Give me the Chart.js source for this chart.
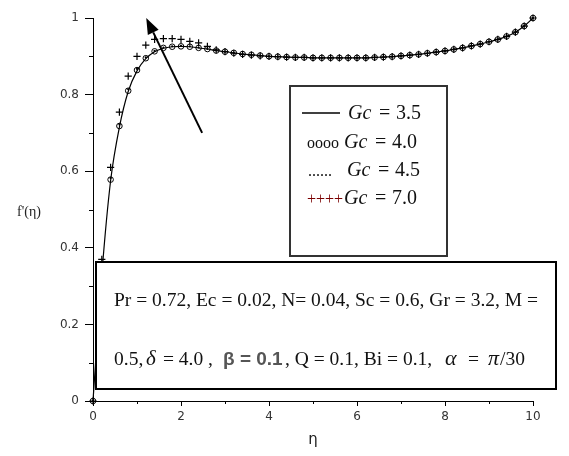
<!DOCTYPE html>
<html>
<head>
<meta charset="utf-8">
<script src="https://cdn.jsdelivr.net/npm/chart.js@4/dist/chart.umd.min.js"></script>
<style>
html,body{margin:0;padding:0;background:#fff}
canvas{display:block}
</style>
</head>
<body>
<canvas id="c" width="569" height="456"></canvas>
<script>
// similarity variable η
const eta = [0,0.2,0.4,0.6,0.8,1.0,1.2,1.4,1.6,1.8,2.0,2.2,2.4,2.6,2.8,3.0,3.2,3.4,3.6,3.8,
  4.0,4.2,4.4,4.6,4.8,5.0,5.2,5.4,5.6,5.8,6.0,6.2,6.4,6.6,6.8,7.0,7.2,7.4,7.6,7.8,
  8.0,8.2,8.4,8.6,8.8,9.0,9.2,9.4,9.6,9.8,10.0];

// velocity profiles f'(η) for each Gc
const gc35 = [0,0.33,0.575,0.715,0.808,0.862,0.894,0.912,0.921,0.925,0.926,0.925,0.922,0.919,0.915,0.912,0.909,0.906,0.904,0.902,
  0.900,0.899,0.898,0.897,0.897,0.896,0.896,0.896,0.896,0.896,0.896,0.896,0.897,0.898,0.899,0.901,0.903,0.905,0.908,0.911,
  0.914,0.918,0.922,0.927,0.932,0.938,0.944,0.952,0.963,0.979,1.0];
const gc40 = [0,0.332,0.578,0.718,0.810,0.864,0.895,0.913,0.922,0.925,0.926,0.925,0.922,0.919,0.915,0.912,0.909,0.906,0.904,0.902,
  0.900,0.899,0.898,0.897,0.897,0.896,0.896,0.896,0.896,0.896,0.896,0.896,0.897,0.898,0.899,0.901,0.903,0.905,0.908,0.911,
  0.914,0.918,0.922,0.927,0.932,0.938,0.944,0.952,0.963,0.979,1.0];
const gc45 = [0,0.335,0.582,0.722,0.814,0.867,0.897,0.914,0.923,0.926,0.927,0.926,0.923,0.920,0.916,0.912,0.909,0.906,0.904,0.902,
  0.900,0.899,0.898,0.897,0.897,0.896,0.896,0.896,0.896,0.896,0.896,0.896,0.897,0.898,0.899,0.901,0.903,0.905,0.908,0.911,
  0.914,0.918,0.922,0.927,0.932,0.938,0.944,0.952,0.963,0.979,1.0];
const gc70 = [0,0.37,0.61,0.754,0.848,0.900,0.929,0.944,0.946,0.946,0.944,0.939,0.935,0.926,0.917,0.912,0.908,0.905,0.903,0.901,
  0.900,0.899,0.898,0.897,0.897,0.896,0.896,0.896,0.896,0.896,0.896,0.896,0.897,0.898,0.899,0.901,0.903,0.905,0.908,0.911,
  0.914,0.918,0.922,0.927,0.932,0.938,0.944,0.952,0.963,0.979,1.0];

const gcValues = ['3.5', '4.0', '4.5', '7.0'];
const legendSymbols = ['', 'oooo', '......', '++++'];

// arrow showing the direction of increasing Gc (data coordinates)
const arrowFrom = {x: 2.48, y: 0.70};
const arrowTo = {x: 1.21, y: 1.0};

const xMinorTicks = [1, 3, 5, 7, 9];
const yMinorTicks = [0.1, 0.3, 0.5, 0.7, 0.9];

const pts = arr => arr.map((v, i) => ({x: eta[i], y: v}));

const SERIF = '"Liberation Serif", "Times New Roman", serif';
const SANS = '"DejaVu Sans", Verdana, sans-serif';
const BODY = '19.5px ' + SERIF;

const overlay = {
  id: 'overlay',
  afterDraw(chart) {
    const ctx = chart.ctx;
    const xs = chart.scales.x, ys = chart.scales.y;
    const area = chart.chartArea;
    ctx.save();

    // minor ticks
    ctx.strokeStyle = '#000';
    ctx.lineWidth = 1;
    ctx.beginPath();
    xMinorTicks.forEach(v => {
      const px = Math.round(xs.getPixelForValue(v)) + 0.5;
      ctx.moveTo(px, area.bottom); ctx.lineTo(px, area.bottom + 3);
    });
    yMinorTicks.forEach(v => {
      const py = Math.round(ys.getPixelForValue(v)) + 0.5;
      ctx.moveTo(area.left - 4, py); ctx.lineTo(area.left, py);
    });
    ctx.stroke();

    // y axis title, horizontal
    ctx.fillStyle = '#222';
    ctx.font = '14px ' + SERIF;
    ctx.textAlign = 'center';
    ctx.textBaseline = 'middle';
    ctx.fillText("f'(\u03B7)", 29, 212);

    // arrow
    const ax0 = xs.getPixelForValue(arrowFrom.x), ay0 = ys.getPixelForValue(arrowFrom.y);
    const ax1 = xs.getPixelForValue(arrowTo.x), ay1 = ys.getPixelForValue(arrowTo.y);
    const ang = Math.atan2(ay1 - ay0, ax1 - ax0);
    const headLen = 16, headW = 6;
    const bx = ax1 - headLen * Math.cos(ang), by = ay1 - headLen * Math.sin(ang);
    ctx.strokeStyle = '#000';
    ctx.lineWidth = 2;
    ctx.beginPath(); ctx.moveTo(ax0, ay0); ctx.lineTo(bx, by); ctx.stroke();
    ctx.fillStyle = '#000';
    ctx.beginPath();
    ctx.moveTo(ax1, ay1);
    ctx.lineTo(bx + headW * Math.sin(ang), by - headW * Math.cos(ang));
    ctx.lineTo(bx - headW * Math.sin(ang), by + headW * Math.cos(ang));
    ctx.closePath(); ctx.fill();

    // legend box
    const L = {x: 290, y: 86, w: 157, h: 170};
    ctx.fillStyle = '#fff';
    ctx.fillRect(L.x, L.y, L.w, L.h);
    ctx.strokeStyle = '#333';
    ctx.lineWidth = 2;
    ctx.strokeRect(L.x, L.y, L.w, L.h);
    const rowsY = [113, 142, 170, 198];
    const symX = [302, 307, 308, 307];
    const gcX = [348, 344, 347, 344];
    ctx.textBaseline = 'alphabetic';
    ctx.textAlign = 'left';
    gcValues.forEach((g, i) => {
      const base = rowsY[i] + 6;
      if (i === 0) {
        ctx.strokeStyle = '#000'; ctx.lineWidth = 1.5;
        ctx.beginPath(); ctx.moveTo(302, rowsY[i]); ctx.lineTo(340, rowsY[i]); ctx.stroke();
      } else {
        ctx.fillStyle = i === 3 ? '#7a0000' : '#111';
        ctx.font = '16px ' + SERIF;
        ctx.fillText(legendSymbols[i], symX[i], base);
      }
      ctx.fillStyle = '#111';
      ctx.font = 'italic 20px ' + SERIF;
      ctx.fillText('Gc', gcX[i], base);
      ctx.font = '20px ' + SERIF;
      ctx.fillText('=', gcX[i] + 31, base);
      ctx.fillText(g, gcX[i] + 48, base);
    });

    // parameter box
    const P = {x: 96, y: 262, w: 460, h: 127};
    ctx.fillStyle = '#fff';
    ctx.fillRect(P.x, P.y, P.w, P.h);
    ctx.strokeStyle = '#000';
    ctx.lineWidth = 2;
    ctx.strokeRect(P.x, P.y, P.w, P.h);

    ctx.fillStyle = '#111';
    ctx.font = BODY;
    ctx.fillText('Pr = 0.72, Ec = 0.02, N= 0.04, Sc = 0.6, Gr = 3.2, M =', 114, 306);

    // second line, laid out piece by piece
    const segs = [
      {t: '0.5,', x: 114, f: BODY, c: '#111'},
      {t: '\u03B4', x: 146, f: 'italic 21px ' + SERIF, c: '#111'},
      {t: '= 4.0 ,', x: 163, f: BODY, c: '#111'},
      {t: '\u03B2 = 0.1', x: 223, f: 'bold 19px "Liberation Sans", Arial, sans-serif', c: '#555'},
      {t: ', Q = 0.1, Bi = 0.1,', x: 285, f: BODY, c: '#111'},
      {t: '\u03B1', x: 445, f: 'italic 22px ' + SERIF, c: '#111'},
      {t: '=', x: 468, f: BODY, c: '#111'},
      {t: '\u03C0', x: 488, f: 'italic 22px ' + SERIF, c: '#111'},
      {t: '/30', x: 500, f: BODY, c: '#111'}
    ];
    segs.forEach(s => {
      ctx.font = s.f; ctx.fillStyle = s.c;
      ctx.fillText(s.t, s.x, 365);
    });
    ctx.restore();
  }
};

new Chart(document.getElementById('c'), {
  type: 'line',
  data: {
    datasets: [
      {label: 'Gc = ' + gcValues[0], data: pts(gc35), borderColor: '#000', borderWidth: 1.2,
        pointRadius: 0, fill: false, tension: 0.3},
      {label: 'Gc = ' + gcValues[1], data: pts(gc40), showLine: false, pointStyle: 'circle',
        pointRadius: 2.8, pointBorderWidth: 1, pointBorderColor: '#000', pointBackgroundColor: 'rgba(255,255,255,0)'},
      {label: 'Gc = ' + gcValues[2], data: pts(gc45), showLine: false, pointStyle: 'circle',
        pointRadius: 1.1, pointBorderWidth: 0, pointBackgroundColor: '#000'},
      {label: 'Gc = ' + gcValues[3], data: pts(gc70), showLine: false, pointStyle: 'cross',
        pointRadius: 3.6, pointBorderWidth: 1.2, pointBorderColor: '#000'}
    ]
  },
  options: {
    responsive: false,
    animation: false,
    clip: false,
    layout: {padding: {left: 0, right: 36, top: 18, bottom: 0}},
    plugins: {legend: {display: false}, tooltip: {enabled: false}},
    scales: {
      x: {
        type: 'linear', min: 0, max: 10,
        afterFit: s => { s.height = 55; },
        ticks: {stepSize: 2, color: '#333', font: {family: SANS, size: 12}, padding: 4, maxRotation: 0},
        grid: {drawOnChartArea: false, drawTicks: true, tickLength: 5, color: '#000'},
        border: {display: true, color: '#000', width: 1},
        title: {display: true, text: '\u03B7', color: '#222', font: {family: SANS, size: 15}, padding: {top: 0, bottom: 7}}
      },
      y: {
        type: 'linear', min: 0, max: 1,
        afterFit: s => { s.width = 93; },
        ticks: {stepSize: 0.2, color: '#333', font: {family: SANS, size: 12}, padding: 6,
          callback: v => String(Number(v.toFixed(1)))},
        grid: {drawOnChartArea: false, drawTicks: true, tickLength: 8, color: '#000'},
        border: {display: true, color: '#000', width: 1}
      }
    }
  },
  plugins: [overlay]
});
</script>
</body>
</html>
